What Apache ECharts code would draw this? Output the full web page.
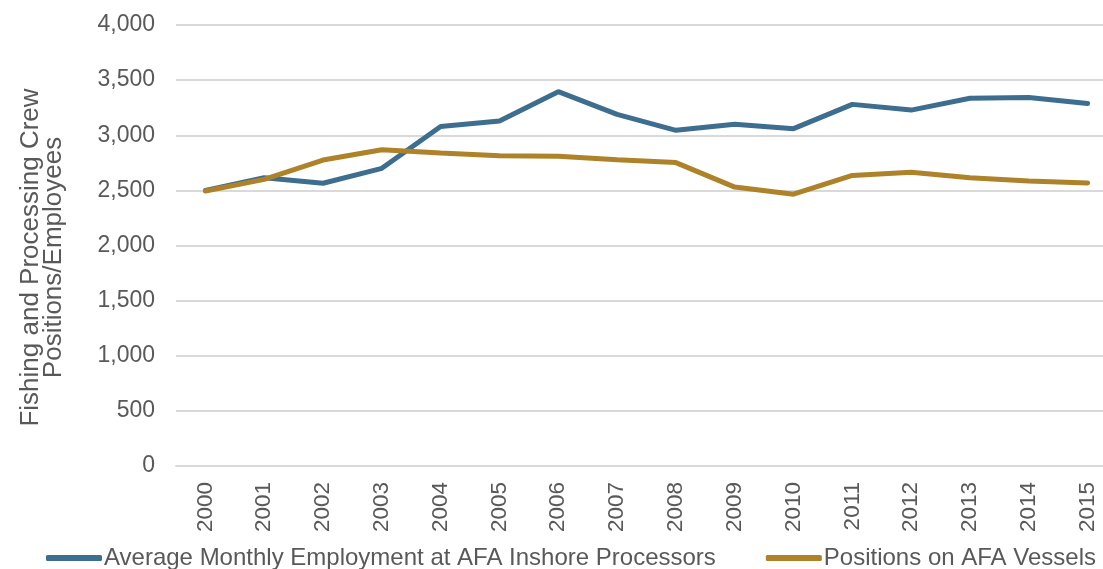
<!DOCTYPE html>
<html>
<head>
  <meta charset="UTF-8" />
  <title>AFA employment</title>
  <script src="https://cdn.jsdelivr.net/npm/echarts@6/dist/echarts.min.js"></script>
</head>
<body style="margin: 0">
  <div id="chart" style="width: 1103px; height: 569px"></div>
  <script>
    // data
    var years = ["2000", "2001", "2002", "2003", "2004", "2005", "2006", "2007",
      "2008", "2009", "2010", "2011", "2012", "2013", "2014", "2015"];
    var inshore = [2500, 2615, 2565, 2700, 3080, 3130, 3395, 3190,
      3045, 3100, 3060, 3280, 3228, 3335, 3342, 3288];
    var vessels = [2495, 2600, 2775, 2868, 2840, 2815, 2810, 2778,
      2752, 2530, 2465, 2635, 2665, 2615, 2585, 2567];
    var yTicks = [0, 500, 1000, 1500, 2000, 2500, 3000, 3500, 4000];

    var txt = "#595959";
    var font = "'Liberation Sans', Arial, sans-serif";
    var chart = echarts.init(document.getElementById("chart"));

    var option = {
      animation: false,
      textStyle: { fontFamily: font, color: txt },
      grid: { left: 176, top: 25, width: 941, bottom: 103, outerBoundsMode: "none", containLabel: false },
      legend: {
        left: 41,
        top: 541,
        icon: "roundRect",
        itemWidth: 56,
        itemHeight: 6,
        itemGap: 50,
        textStyle: { fontFamily: font, color: txt, fontSize: 24, padding: [0, 0, 0, -3] },
        data: ["Average Monthly Employment at AFA Inshore Processors", "Positions on AFA Vessels"]
      },
      xAxis: {
        type: "category",
        data: years,
        axisTick: { show: false },
        axisLine: { lineStyle: { color: "#d9d9d9", width: 2 } },
        axisLabel: { rotate: 90, margin: 16, fontSize: 22.5, color: txt, fontFamily: font }
      },
      yAxis: {
        type: "value",
        min: yTicks[0],
        max: yTicks[yTicks.length - 1],
        interval: 500,
        name: "Fishing and Processing Crew\nPositions/Employees",
        nameLocation: "middle",
        nameGap: 111,
        nameTextStyle: { fontSize: 26, color: txt, fontFamily: font, lineHeight: 23, padding: [0, 24, 0, 0] },
        axisLine: { show: false },
        axisTick: { show: false },
        splitLine: { lineStyle: { color: "#d9d9d9", width: 2 } },
        axisLabel: {
          margin: 21,
          fontSize: 23,
          color: txt,
          fontFamily: font,
          formatter: function (v) { return v.toLocaleString("en-US"); }
        }
      },
      series: [
        {
          name: "Average Monthly Employment at AFA Inshore Processors",
          type: "line",
          data: inshore,
          symbol: "none",
          lineStyle: { color: "#3d6e8f", width: 5, cap: "round" },
          itemStyle: { color: "#3d6e8f" }
        },
        {
          name: "Positions on AFA Vessels",
          type: "line",
          data: vessels,
          symbol: "none",
          lineStyle: { color: "#ad8228", width: 5, cap: "round" },
          itemStyle: { color: "#ad8228" }
        }
      ]
    };
    chart.setOption(option);
  </script>
</body>
</html>
